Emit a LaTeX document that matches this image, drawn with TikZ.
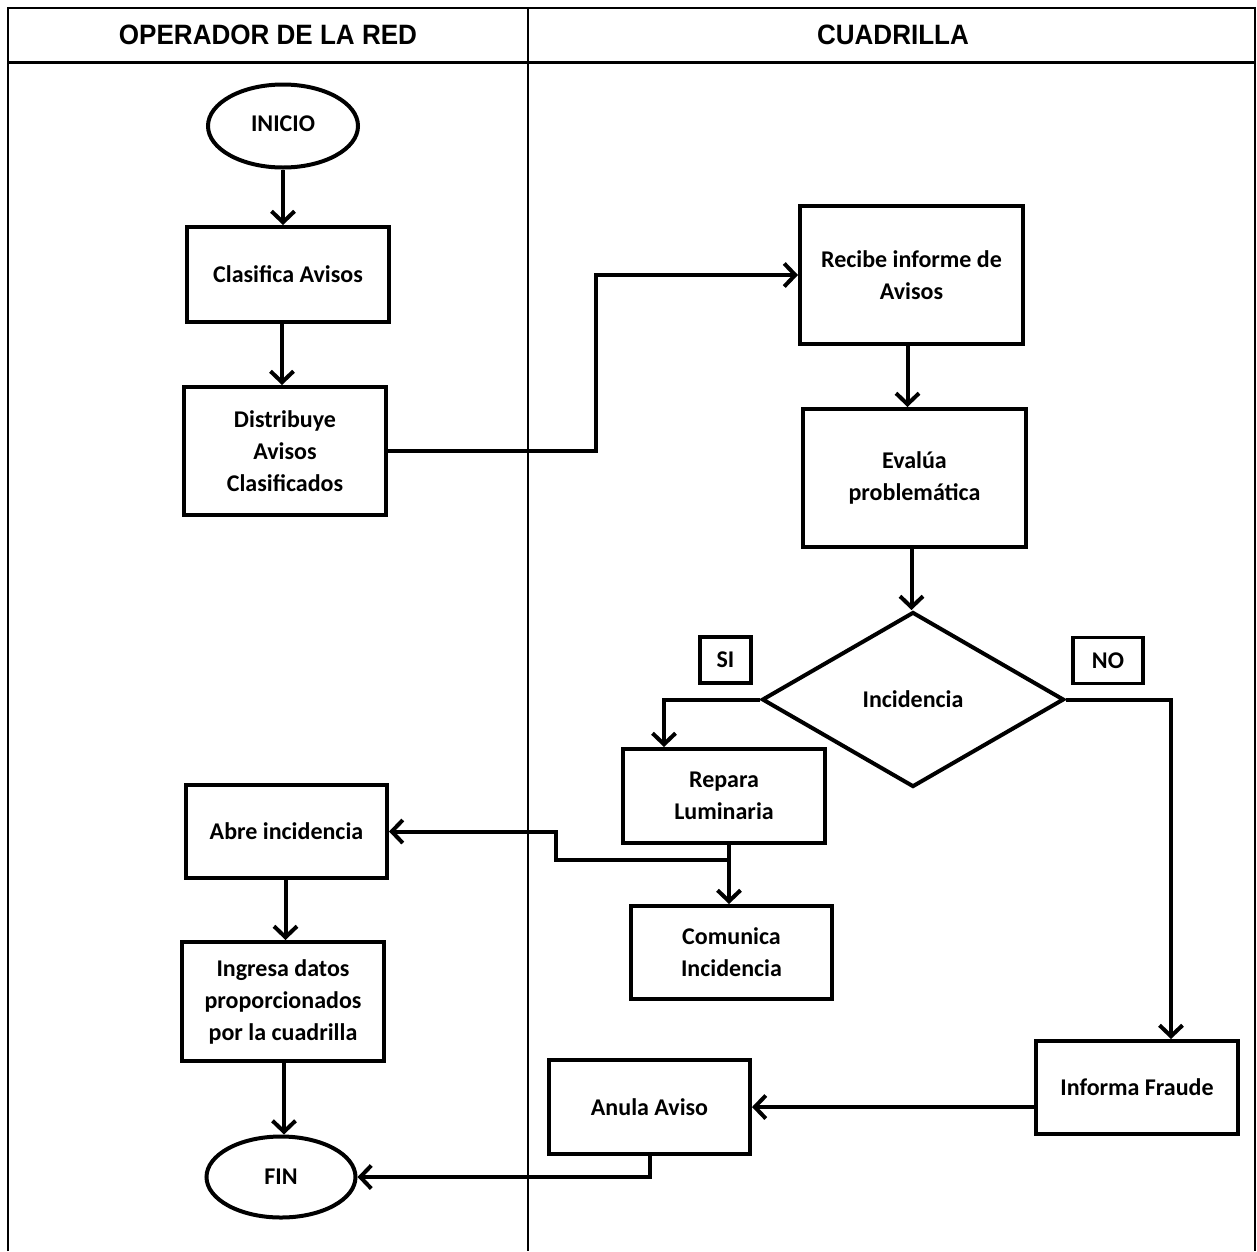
\documentclass[tikz,border=0pt]{standalone}
\usepackage{fontspec}
\setmainfont{Carlito}
\newfontfamily\headfont{Liberation Sans}
\usetikzlibrary{shapes.geometric,arrows.meta,calc}

\begin{document}
\begin{tikzpicture}[x=1pt,y=-1pt,
  every node/.style={font=\bfseries\fontsize{24}{32}\selectfont, align=center, inner sep=0pt},
  box/.style={draw, line width=4pt, rectangle, minimum width=#1, minimum height=94pt},
  box/.default=202pt,
  term/.style={draw, line width=4pt, ellipse, minimum width=150pt, minimum height=83pt},
  decision/.style={draw, line width=4pt, diamond, minimum width=302pt, minimum height=175pt, aspect=1.73},
  tag/.style={draw, line width=3.4pt, rectangle, minimum height=46pt},
  lane/.style={line width=2pt},
  headtext/.style={font=\headfont\bfseries\fontsize{28}{32}\selectfont},
  conn/.style={line width=4pt, -{Straight Barb[length=11pt,width=23pt,line width=4pt]}}
]
\useasboundingbox (0,0) rectangle (1257,1251);

% swimlane frame
\draw[lane] (8,1251) -- (8,8) -- (1255,8) -- (1255,1251);
\draw[lane] (528,8) -- (528,1251);
\draw[line width=3pt] (8,62) -- (1255,62);
\node[headtext] (h1) at (268,35) {\scalebox{0.93}[1]{OPERADOR DE LA RED}};
\node[headtext] (h2) at (893,35) {\scalebox{0.93}[1]{CUADRILLA}};

% operator lane
\node[term] (inicio) at (283,126) {\raisebox{4pt}{INICIO}};
\node[box, minimum height=95pt] (clasifica) at (288,274.5) {Clasifica Avisos};
\node[box, minimum height=128pt] (distribuye) at (285,451) {Distribuye\\Avisos\\Clasificados};
\node[box, minimum width=201pt, minimum height=93pt] (abre) at (286.5,831.5) {Abre incidencia};
\node[box, minimum height=119pt] (ingresa) at (283,1001.5) {Ingresa datos\\proporcionados\\por la cuadrilla};
\node[term, minimum width=149pt, minimum height=81pt] (fin) at (281,1177) {FIN};

% crew lane
\node[box, minimum width=223pt, minimum height=138pt] (recibe) at (911.5,275) {Recibe informe de\\Avisos};
\node[box, minimum width=223pt, minimum height=138pt] (evalua) at (914.5,478) {Evalúa\\problemática};
\node[decision] (inc) at (913,699.5) {Incidencia};
\node[tag, minimum width=51pt] (si) at (725.5,660) {SI};
\node[tag, minimum width=70pt] (no) at (1108,660.5) {NO};
\node[box, minimum height=94pt] (repara) at (724,796) {Repara\\Luminaria};
\node[box, minimum width=201pt, minimum height=93pt] (comunica) at (731.5,952.5) {Comunica\\Incidencia};
\node[box, minimum height=93pt] (informa) at (1137,1087.5) {Informa Fraude};
\node[box, minimum width=201pt, minimum height=94pt] (anula) at (649.5,1107) {Anula Aviso};

% connector start points, slightly off the box centres
\coordinate (clS) at ($(clasifica.south)+(-6,0)$);
\coordinate (reS) at ($(recibe.south)+(-4,0)$);
\coordinate (evS) at ($(evalua.south)+(-3,0)$);
\coordinate (rpN) at ($(repara.north west)+(43,0)$);
\coordinate (ifN) at ($(informa.north)+(34,0)$);
\coordinate (rpS) at ($(repara.south)+(5,0)$);
\coordinate (tap) at ($(repara.south)+(5,15)$);
\coordinate (abS) at ($(abre.south)+(-1,0)$);
\coordinate (inS) at ($(ingresa.south)+(1,0)$);

% connectors
\draw[conn] (inicio.south) -- (inicio.south |- clasifica.north);
\draw[conn] (clS) -- (clS |- distribuye.north);
\draw[conn] (distribuye.east) -- ++(208,0) |- (recibe.west);
\draw[conn] (reS) -- (reS |- evalua.north);
\draw[conn] (evS) -- (evS |- inc.north);
\draw[conn] (inc.west) -| (rpN);
\draw[conn] (inc.east) -| (ifN);
\draw[conn] (rpS) -- (rpS |- comunica.north);
\draw[conn] (tap) -- ++(-173,0) |- (abre.east);
\draw[conn] (abS) -- (abS |- ingresa.north);
\draw[conn] (inS) -- (inS |- fin.north);
\draw[conn] (informa.west |- anula.east) -- (anula.east);
\draw[conn] (anula.south) |- (fin.east);
\end{tikzpicture}
\end{document}
